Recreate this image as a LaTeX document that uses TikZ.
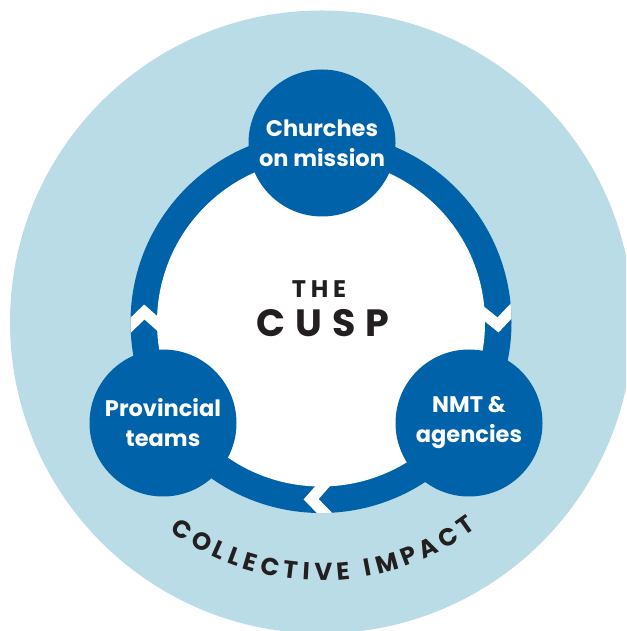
\documentclass[tikz,border=0pt]{standalone}
\usepackage{fontspec}
\setmainfont{Poppins}
\usetikzlibrary{calc,decorations.text}
\definecolor{cuspblue}{HTML}{0062A8}
\definecolor{cusplight}{HTML}{BADCE7}
\definecolor{cuspink}{HTML}{231F20}
\begin{document}
\begin{tikzpicture}[x=1pt, y=1pt,
  hub/.style={circle, fill=cuspblue, minimum size=147pt, inner sep=0pt, text=white,
    align=center, font=\bfseries\fontsize{22.5}{30}\selectfont},
  gapline/.style={white, line width=11pt, miter limit=10}]
\useasboundingbox (0,0) rectangle (626,631);
\begin{scope}
\clip (0,0) rectangle (626,631);
\fill[cusplight] (321.5,309) circle[radius=311.5];
\end{scope}
\coordinate (c) at (321,308.5);
% ring of arrows
\fill[cuspblue] (c) circle[radius=190.5];
\fill[white] (c) circle[radius=164];
\begin{scope}
\clip (c) circle[radius=190.5];
\foreach \a in {176.6,-0.8,266.8}
  \draw[gapline] ($(c)+(\a+6:197)$) -- ($(c)+(\a:177)$) -- ($(c)+(\a+6:157)$);
\end{scope}
% the three partners
\node[hub] (church) at (322,488) {Churches\\on mission};
\node[hub] (prov) at (163,208) {Provincial\\teams};
\node[hub] (nmt) at (469,208) {NMT \&\\agencies};
% title
\node[anchor=base, text=cuspink, inner sep=0pt,
  font=\bfseries\fontsize{24}{24}\selectfont\addfontfeature{LetterSpace=20}] (the) at (319,333.7) {THE};
\node[anchor=base, text=cuspink, inner sep=0pt,
  font=\bfseries\fontsize{38}{38}\selectfont\addfontfeature{LetterSpace=26}] (cusp) at (323,294.3) {CUSP};
% curved caption
\path[decorate, decoration={text along path, text align=fit to path, text color=cuspink,
  text={|\bfseries\fontsize{24.5}{24.5}\selectfont|COLLECTIVE IMPACT}}]
  ($(c)+(234:258)$) arc[start angle=234, end angle=307, radius=258];
\end{tikzpicture}
\end{document}
